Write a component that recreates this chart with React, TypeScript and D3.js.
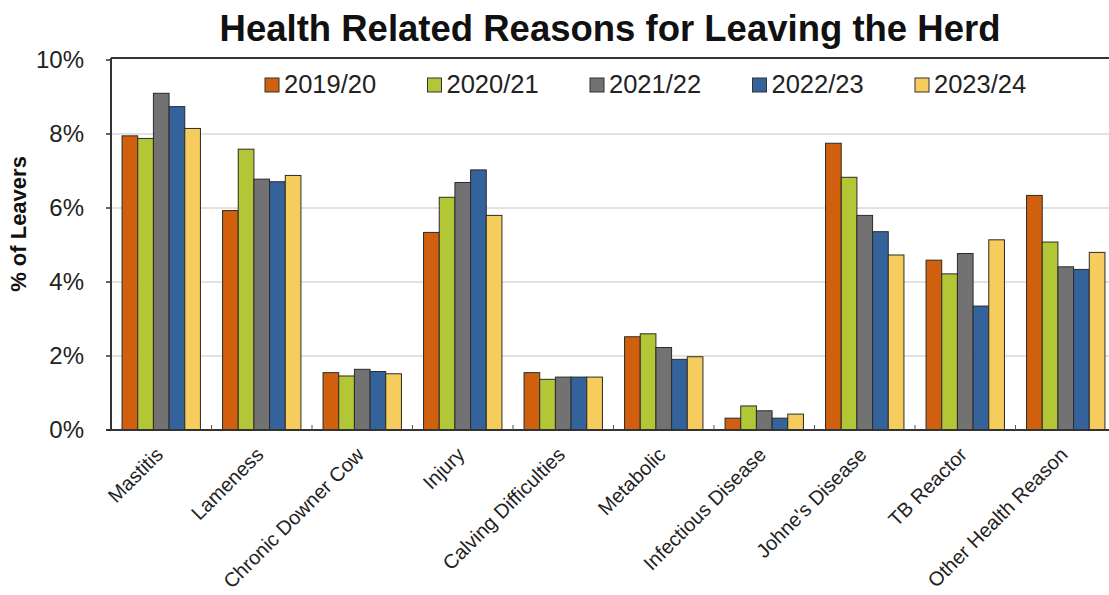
import React from "react";
import * as d3 from "d3";

const categories = [
  "Mastitis",
  "Lameness",
  "Chronic Downer Cow",
  "Injury",
  "Calving Difficulties",
  "Metabolic",
  "Infectious Disease",
  "Johne's Disease",
  "TB Reactor",
  "Other Health Reason",
];
const seriesNames = ["2019/20", "2020/21", "2021/22", "2022/23", "2023/24"];
const v2019 = [7.95, 5.93, 1.55, 5.34, 1.55, 2.52, 0.32, 7.75, 4.59, 6.34];
const v2020 = [7.88, 7.59, 1.46, 6.29, 1.37, 2.6, 0.65, 6.83, 4.22, 5.08];
const v2021 = [9.1, 6.78, 1.64, 6.69, 1.43, 2.23, 0.52, 5.8, 4.77, 4.41];
const v2022 = [8.74, 6.71, 1.58, 7.03, 1.43, 1.91, 0.32, 5.36, 3.35, 4.34];
const v2023 = [8.15, 6.88, 1.52, 5.8, 1.43, 1.98, 0.43, 4.73, 5.14, 4.8];
const seriesValues = [v2019, v2020, v2021, v2022, v2023];
const colors = ["#d0600d", "#b3c736", "#727272", "#34629b", "#f6cd5c"];
const yTicks = [0, 2, 4, 6, 8, 10];

const W = 1109;
const H = 595;
const left = 111;
const right = 1116;
const top = 58;
const bottom = 430;

export default function App() {
  const x = d3
    .scaleBand<string>()
    .domain(categories)
    .range([left, right])
    .paddingInner(0.22)
    .paddingOuter(0.11);
  const xs = d3
    .scaleBand<string>()
    .domain(seriesNames)
    .range([0, x.bandwidth()]);
  const y = d3.scaleLinear().domain([0, 10]).range([bottom, bottom - 370]);
  const step = x.step();
  const font = "Liberation Sans, Arial, sans-serif";

  return (
    <svg
      width={W}
      height={H}
      style={{ position: "absolute", left: 0, top: 0, background: "#fff" }}
      fontFamily={font}
    >
      <rect x={0} y={0} width={W} height={H} fill="#fff" />
      {/* gridlines */}
      {yTicks.slice(1, -1).map((t) => (
        <line
          key={"g" + t}
          x1={left}
          x2={W}
          y1={y(t)}
          y2={y(t)}
          stroke="#d8d8d8"
          strokeWidth={1.5}
        />
      ))}
      {/* bars */}
      {categories.map((c, i) => (
        <g key={c} transform={`translate(${x(c)},0)`}>
          {seriesNames.map((s, j) => (
            <rect
              key={s}
              x={xs(s)}
              y={y(seriesValues[j][i])}
              width={xs.bandwidth()}
              height={y(0) - y(seriesValues[j][i])}
              fill={colors[j]}
              stroke="#2b2b2b"
              strokeWidth={1}
            />
          ))}
        </g>
      ))}
      {/* plot frame */}
      <line x1={left} x2={W} y1={top} y2={top} stroke="#333" strokeWidth={2} />
      <line x1={left} x2={left} y1={top} y2={bottom} stroke="#333" strokeWidth={2} />
      <line x1={left - 5} x2={W} y1={bottom} y2={bottom} stroke="#333" strokeWidth={2} />
      {/* x ticks at group boundaries */}
      {categories.slice(1).map((c, i) => (
        <line
          key={"t" + c}
          x1={left + (i + 1) * step}
          x2={left + (i + 1) * step}
          y1={bottom}
          y2={bottom - 5}
          stroke="#555"
          strokeWidth={1}
        />
      ))}
      {/* y ticks & labels */}
      {yTicks.map((t) => (
        <g key={"y" + t}>
          <line x1={left - 5} x2={left} y1={y(t)} y2={y(t)} stroke="#333" strokeWidth={1.5} />
          <text
            x={84}
            y={y(t)}
            dy="0.35em"
            textAnchor="end"
            fontSize={24}
            fill="#222"
          >
            {t}%
          </text>
        </g>
      ))}
      {/* y axis title */}
      <text
        transform={`translate(26,224) rotate(-90)`}
        textAnchor="middle"
        fontSize={22}
        fontWeight="bold"
        fill="#111"
      >
        % of Leavers
      </text>
      {/* x labels */}
      {categories.map((c) => {
        const cx = (x(c) as number) + x.bandwidth() / 2 + 3;
        return (
          <text
            key={"l" + c}
            transform={`translate(${cx},${bottom + 26}) rotate(-45)`}
            textAnchor="end"
            fontSize={20}
            fill="#222"
          >
            {c}
          </text>
        );
      })}
      {/* title */}
      <text
        x={610}
        y={41}
        textAnchor="middle"
        fontSize={36.5}
        fontWeight="bold"
        fill="#111"
      >
        Health Related Reasons for Leaving the Herd
      </text>
      {/* legend */}
      {seriesNames.map((s, j) => {
        const lx = 265 + j * 162.5;
        return (
          <g key={"leg" + s}>
            <rect
              x={lx}
              y={78}
              width={14}
              height={14}
              fill={colors[j]}
              stroke="#333"
              strokeWidth={1}
            />
            <text x={lx + 19} y={93} fontSize={25.5} fill="#222">
              {s}
            </text>
          </g>
        );
      })}
    </svg>
  );
}
